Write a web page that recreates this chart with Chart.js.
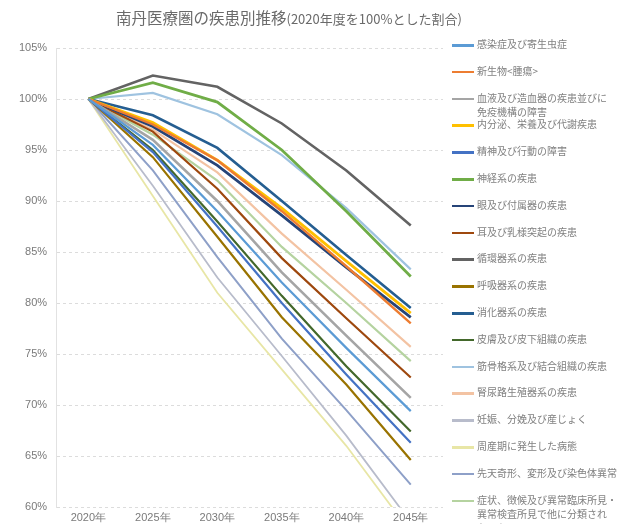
<!DOCTYPE html>
<html>
<head>
<meta charset="utf-8">
<script src="https://cdn.jsdelivr.net/npm/chart.js@4/dist/chart.umd.min.js"></script>
<style>
  body { margin: 0; width: 635px; height: 524px; overflow: hidden; background: #fff;
         font-family: "Noto Sans CJK JP", "Noto Sans", sans-serif; position: relative; }
  #title { position: absolute; left: 116px; top: 6px; color: #6a6a6a; font-size: 15.5px; white-space: nowrap; }
  #title span { font-size: 13px; }
  #c { position: absolute; left: 0; top: 0; }
  #legend { position: absolute; left: 0; top: 0; }
  .item { position: absolute; left: 452px; width: 183px; }
  .item i { position: absolute; left: 0; top: 7px; width: 22px; height: 2.5px; }
  .item b { position: absolute; left: 25px; top: 0; font-weight: normal; font-size: 10px; line-height: 14px;
            color: #808080; white-space: pre; }
</style>
</head>
<body>
<canvas id="c" width="635" height="524"></canvas>
<div id="title">南丹医療圏の疾患別推移<span>(2020年度を100%とした割合)</span></div>
<div id="legend"></div>
<script>
// 年次
const years = ['2020年', '2025年', '2030年', '2035年', '2040年', '2045年']

// 疾患名 (凡例の改行位置つき)
const names = [
  '感染症及び寄生虫症',
  '新生物<腫瘍>',
  '血液及び造血器の疾患並びに\n免疫機構の障害',
  '内分泌、栄養及び代謝疾患',
  '精神及び行動の障害',
  '神経系の疾患',
  '眼及び付属器の疾患',
  '耳及び乳様突起の疾患',
  '循環器系の疾患',
  '呼吸器系の疾患',
  '消化器系の疾患',
  '皮膚及び皮下組織の疾患',
  '筋骨格系及び結合組織の疾患',
  '腎尿路生殖器系の疾患',
  '妊娠、分娩及び産じょく',
  '周産期に発生した病態',
  '先天奇形、変形及び染色体異常',
  '症状、徴候及び異常臨床所見・\n異常検査所見で他に分類され\nないもの'
]

// 2020年度を100%とした割合 (names と同じ順)
const values = [
  [100, 95.5, 89.0, 82.0, 75.6, 69.4],
  [100, 97.5, 94.0, 89.0, 83.6, 78.0],
  [100, 96.0, 90.0, 83.0, 76.8, 70.7],
  [100, 97.7, 94.0, 89.3, 84.1, 79.0],
  [100, 94.8, 87.5, 80.0, 73.0, 66.3],
  [100, 101.6, 99.7, 95.0, 89.0, 82.6],
  [100, 97.3, 93.5, 88.6, 83.5, 78.6],
  [100, 96.8, 91.2, 84.4, 78.5, 72.7],
  [100, 102.3, 101.2, 97.6, 93.0, 87.6],
  [100, 94.3, 86.5, 78.6, 72.0, 64.6],
  [100, 98.4, 95.2, 90.0, 84.7, 79.5],
  [100, 95.0, 88.0, 80.7, 73.8, 67.4],
  [100, 100.6, 98.5, 94.5, 89.3, 83.3],
  [100, 97.0, 92.8, 86.8, 81.3, 75.7],
  [100, 91.5, 82.5, 74.8, 67.0, 58.5],
  [100, 90.5, 81.0, 73.5, 66.0, 57.5],
  [100, 93.0, 84.5, 76.5, 69.5, 62.2],
  [100, 96.5, 92.0, 85.5, 80.0, 74.3]
]

const colors = [
  '#5b9bd5', '#ed7d31', '#a5a5a5', '#ffc000', '#4472c4', '#70ad47',
  '#264478', '#9e480e', '#636363', '#997300', '#255e91', '#43682b',
  '#9fc3e0', '#f3c3a3', '#b8bccb', '#e8e6a6', '#8ea0c8', '#b5d3a0'
]
const widths = [2.2, 2.4, 2.6, 2.8, 2.2, 2.8, 2.8, 2.2, 2.6, 2.2, 2.6, 2.2, 2.2, 2.2, 1.8, 1.8, 2, 2.2]

const datasets = names.map((n, i) => ({
  label: n.replace(/\n/g, ''),
  data: values[i],
  borderColor: colors[i],
  backgroundColor: colors[i],
  borderWidth: widths[i],
  pointRadius: 0,
  tension: 0
}))

new Chart(document.getElementById('c'), {
  type: 'line',
  data: { labels: years, datasets },
  options: {
    responsive: false,
    animation: false,
    layout: { padding: { left: 10, right: 192, top: 48, bottom: -4 } },
    plugins: { legend: { display: false }, title: { display: false }, tooltip: { enabled: false } },
    scales: {
      x: {
        offset: true,
        grid: { display: false, drawTicks: false },
        border: { display: false },
        ticks: { color: '#7a7a7a', font: { size: 11, lineHeight: 1 }, padding: 5 }
      },
      y: {
        min: 60,
        max: 105,
        ticks: { stepSize: 5, callback: v => v + '%', color: '#7a7a7a', font: { size: 11 }, padding: 9 },
        grid: { color: '#dcdcdc', drawTicks: false },
        border: { display: true, color: '#e2e2e2', dash: [3, 3] }
      }
    }
  }
})

// 凡例
const legend = document.getElementById('legend')
names.forEach((n, i) => {
  const d = document.createElement('div')
  d.className = 'item'
  d.style.top = (37 + i * 26.8) + 'px'
  d.innerHTML = '<i style="background:' + colors[i] + '"></i><b></b>'
  d.querySelector('b').textContent = n
  legend.appendChild(d)
})
</script>
</body>
</html>
